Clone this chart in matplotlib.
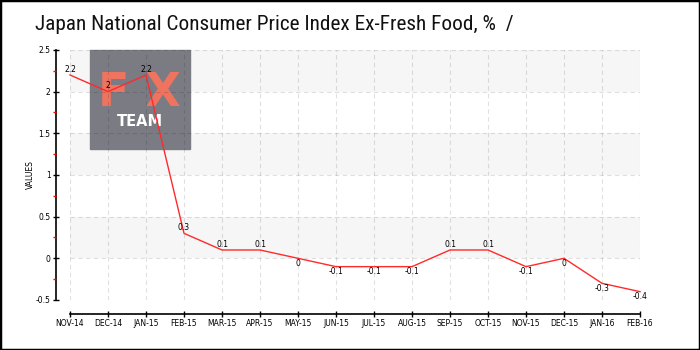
import matplotlib.pyplot as plt
from matplotlib.patches import Rectangle


# ---------------------------------------------------------
# Data
# ---------------------------------------------------------

months = [
    "NOV-14", "DEC-14", "JAN-15", "FEB-15", "MAR-15", "APR-15",
    "MAY-15", "JUN-15", "JUL-15", "AUG-15", "SEP-15", "OCT-15",
    "NOV-15", "DEC-15", "JAN-16", "FEB-16",
]
cpi_values = [2.2, 2.0, 2.2, 0.3, 0.1, 0.1, 0.0, -0.1, -0.1, -0.1,
              0.1, 0.1, -0.1, 0.0, -0.3, -0.4]
value_labels = ["2.2", "2", "2.2", "0.3", "0.1", "0.1", "0", "-0.1", "-0.1",
                "-0.1", "0.1", "0.1", "-0.1", "0", "-0.3", "-0.4"]
y_ticks = [-0.5, 0, 0.5, 1, 1.5, 2, 2.5]
y_tick_labels = ["-0.5", "0", "0.5", "1", "1.5", "2", "2.5"]
y_minor_ticks = [-0.25, 0.25, 0.75, 1.25, 1.75, 2.25]
shaded_bands = [(0, 0.5), (1, 1.5), (2, 2.5)]

TITLE = "Japan National Consumer Price Index Ex-Fresh Food, %  /"


# ---------------------------------------------------------
# Figure and axes
# ---------------------------------------------------------

fig = plt.figure(figsize=(7, 3.5), dpi=100)
ax = fig.add_axes([0.1, 0.1429, 0.8143, 0.7143])

x = list(range(len(months)))

for low, high in shaded_bands:
    ax.axhspan(low, high, color="#f6f6f6", zorder=0, lw=0)

ax.set_xlim(0, len(months) - 1)
ax.set_ylim(-0.5, 2.5)

ax.set_xticks(x)
ax.set_xticklabels(months)
ax.set_yticks(y_ticks)
ax.set_yticklabels(y_tick_labels)
ax.set_yticks(y_minor_ticks, minor=True)

# grid sits above the logo box, so it is drawn as a faint dark dash
ax.set_axisbelow(False)
ax.grid(True, color="black", alpha=0.12, lw=0.8, ls=(0, (4, 3)))

for side in ["top", "right"]:
    ax.spines[side].set_visible(False)
ax.spines["left"].set_position(("outward", 10))
ax.spines["bottom"].set_position(("outward", 10))
ax.spines["left"].set_linewidth(1.2)
ax.spines["bottom"].set_linewidth(1.2)

ax.tick_params(axis="both", which="major", direction="inout", length=4,
               width=1, labelsize=5.5, pad=2, colors="black")
ax.tick_params(axis="y", which="minor", direction="out", length=2.5,
               width=1, color="red")

ax.set_ylabel("VALUES", fontsize=5.5, labelpad=0.5)


# ---------------------------------------------------------
# Logo box (drawn inside the axes, under the grid)
# ---------------------------------------------------------

ax.add_patch(Rectangle((90 / 700, 201 / 350), 100 / 700, 99 / 350,
                       transform=fig.transFigure, color="#7b7b83",
                       zorder=1, clip_on=False))
ax.text(139 / 700, 1 - 94 / 350, "F X", color="#ee7460", fontsize=33,
        fontweight="bold", ha="center", va="center", zorder=1.2,
        transform=fig.transFigure)
ax.text(140 / 700, 1 - 122 / 350, "TEAM", color="white", fontsize=10.5,
        fontweight="bold", ha="center", va="center", zorder=1.2,
        transform=fig.transFigure)


# ---------------------------------------------------------
# Line and value labels
# ---------------------------------------------------------

ax.plot(x, cpi_values, color="#ff2a2a", lw=1, zorder=5, clip_on=False)

for xi, value, label in zip(x, cpi_values, value_labels):
    if value > 0:
        ax.annotate(label, (xi, value), xytext=(0, 1),
                    textcoords="offset points", ha="center", va="bottom",
                    fontsize=5.5, zorder=6)
    else:
        ax.annotate(label, (xi, value), xytext=(0, -0.5),
                    textcoords="offset points", ha="center", va="top",
                    fontsize=5.5, zorder=6)


# ---------------------------------------------------------
# Title and frame
# ---------------------------------------------------------

fig.text(35 / 700, 1 - 24 / 350, TITLE, fontsize=15.3, color="#111111",
         family=["Liberation Sans Narrow", "Roboto Condensed", "DejaVu Sans"],
         fontstretch="condensed", va="center")

fig.patches.append(Rectangle((0, 0), 1, 1, transform=fig.transFigure,
                             fill=False, ec="black", lw=2.5, zorder=10))

fig.savefig("out.png", dpi=100)
